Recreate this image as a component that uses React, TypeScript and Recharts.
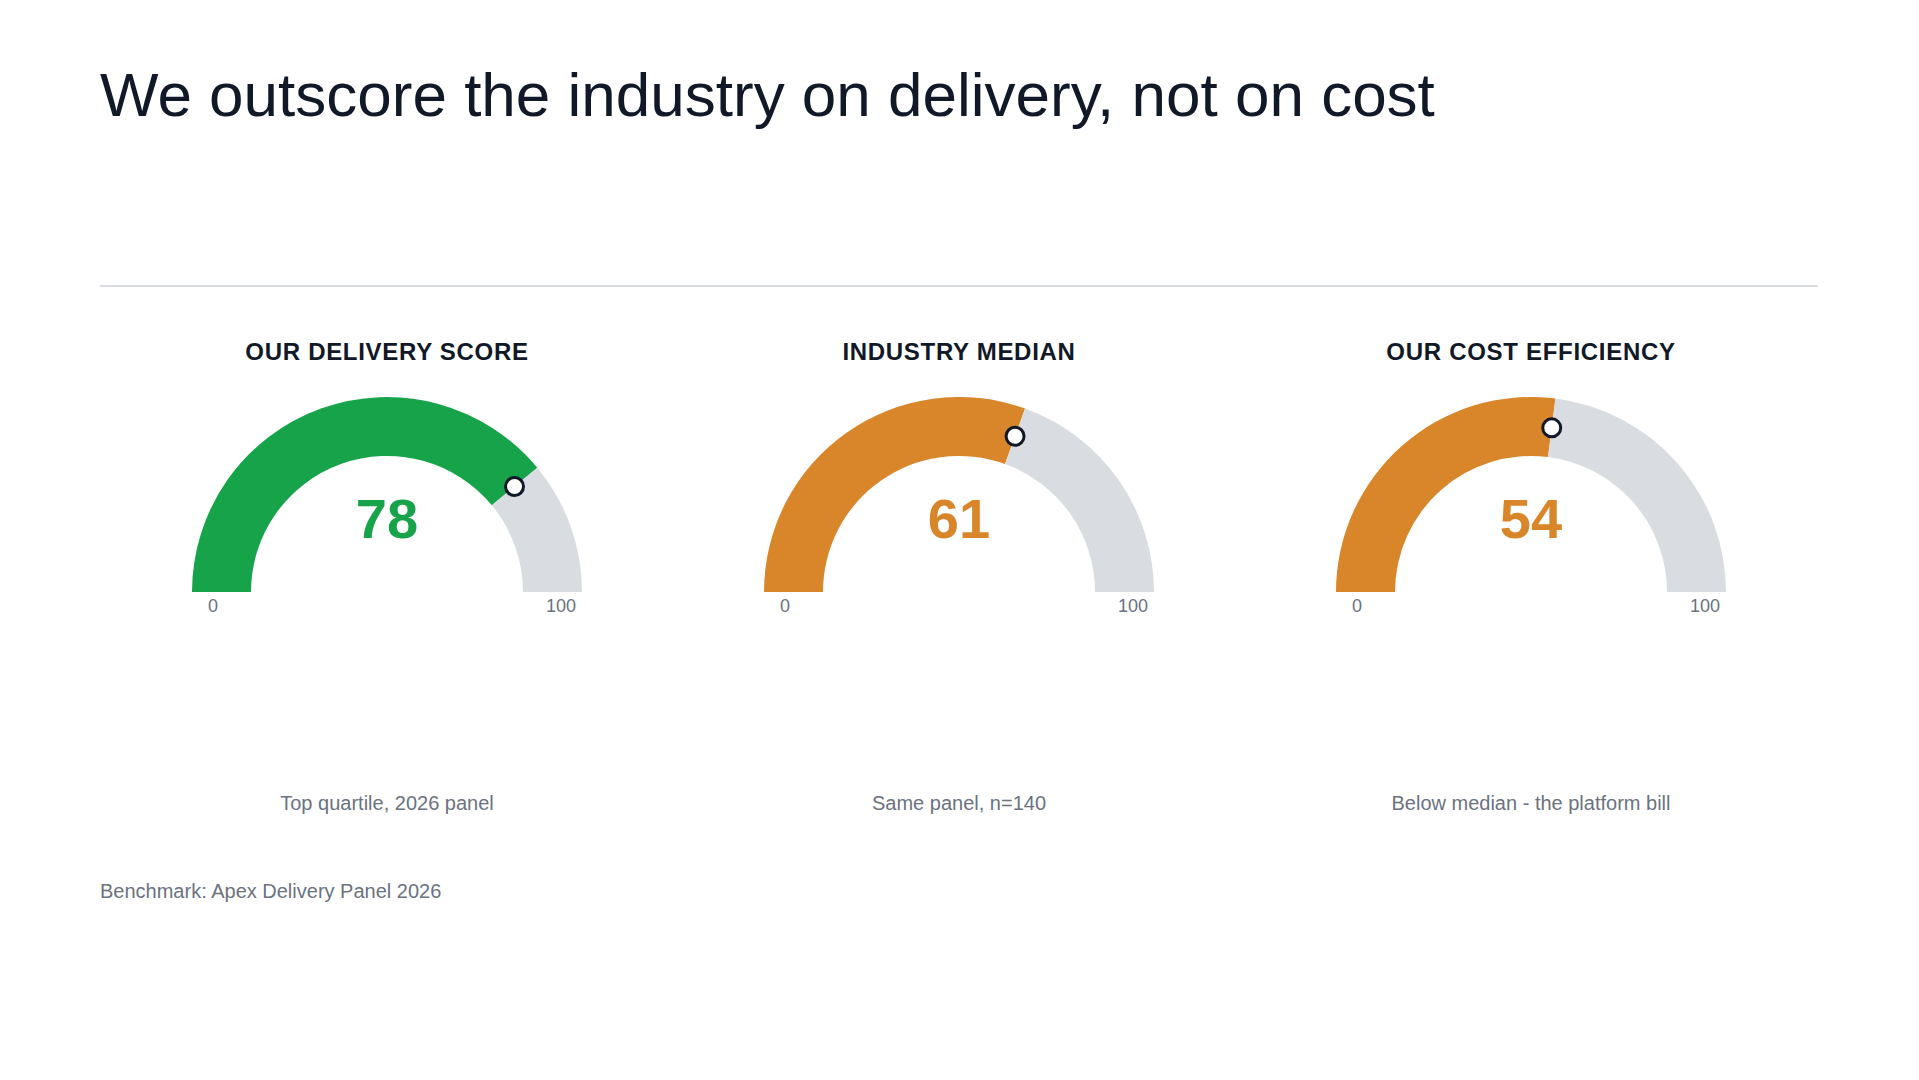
import React from "react";
import { PieChart, Pie, Cell } from "recharts";

const gaugeTitles = ["OUR DELIVERY SCORE", "INDUSTRY MEDIAN", "OUR COST EFFICIENCY"];
const gaugeValues = [78, 61, 54];
const gaugeNotes = ["Top quartile, 2026 panel", "Same panel, n=140", "Below median - the platform bill"];
const scaleMin = 0;
const scaleMax = 100;
const tickLabels = ["0", "100"];

const headline = "We outscore the industry on delivery, not on cost";
const footnote = "Benchmark: Apex Delivery Panel 2026";

const fillColors = ["#16a34a", "#d9862a", "#d9862a"];
const trackColor = "#d9dce1";
const ink = "#111827";
const muted = "#6b7280";
const font = "'Liberation Sans', Arial, Helvetica, sans-serif";

const RAD = Math.PI / 180;
const INNER = 136;
const OUTER = 195;
const CHART_W = 572;
const CHART_H = 330;
const CHART_TOP = 300;
const CX = 286;
const CY = 292;

// baseline -> top for a single line box with lineHeight = fontSize
const topFor = (baseline: number, fs: number) => baseline - 0.8465 * fs;

function Marker(props: any) {
  if (props.index !== 0) return null;
  const r = (props.innerRadius + props.outerRadius) / 2;
  const x = props.cx + r * Math.cos(-props.endAngle * RAD);
  const y = props.cy + r * Math.sin(-props.endAngle * RAD);
  return <circle cx={x} cy={y} r={9} fill="#ffffff" stroke={ink} strokeWidth={3} />;
}

function Gauge({ i, center }: { i: number; center: number }) {
  const value = gaugeValues[i];
  const data = [
    { name: "value", value: value - scaleMin },
    { name: "rest", value: scaleMax - value },
  ];
  const left = center - CHART_W / 2;
  return (
    <>
      <div
        style={{
          position: "absolute",
          left,
          width: CHART_W,
          top: topFor(360, 24),
          fontSize: 24,
          lineHeight: "24px",
          fontWeight: 700,
          letterSpacing: 0.7,
          color: ink,
          textAlign: "center",
        }}
      >
        {gaugeTitles[i]}
      </div>
      <div style={{ position: "absolute", left, top: CHART_TOP }}>
        <PieChart width={CHART_W} height={CHART_H} margin={{ top: 0, right: 0, bottom: 0, left: 0 }}>
          <Pie
            data={data}
            dataKey="value"
            cx={CX}
            cy={CY}
            startAngle={180}
            endAngle={0}
            innerRadius={INNER}
            outerRadius={OUTER}
            stroke="none"
            label={Marker}
            labelLine={false}
            isAnimationActive={false}
          >
            <Cell fill={fillColors[i]} />
            <Cell fill={trackColor} />
          </Pie>
        </PieChart>
      </div>
      <div
        style={{
          position: "absolute",
          left: center - 100,
          width: 200,
          top: topFor(538.3, 56),
          fontSize: 56,
          lineHeight: "56px",
          fontWeight: 700,
          color: fillColors[i],
          textAlign: "center",
        }}
      >
        {value}
      </div>
      {tickLabels.map((t, k) => (
        <div
          key={t}
          style={{
            position: "absolute",
            left: center + (k === 0 ? -174 : 174) - 40,
            width: 80,
            top: topFor(612.3, 18),
            fontSize: 18,
            lineHeight: "18px",
            color: muted,
            textAlign: "center",
          }}
        >
          {t}
        </div>
      ))}
      <div
        style={{
          position: "absolute",
          left,
          width: CHART_W,
          top: topFor(810, 20),
          fontSize: 20,
          lineHeight: "20px",
          color: muted,
          textAlign: "center",
        }}
      >
        {gaugeNotes[i]}
      </div>
    </>
  );
}

export default function App() {
  const centers = [387, 959, 1531];
  return (
    <div
      style={{
        position: "absolute",
        left: 0,
        top: 0,
        width: 1919,
        height: 1080,
        background: "#ffffff",
        fontFamily: font,
        overflow: "hidden",
      }}
    >
      <div
        style={{
          position: "absolute",
          left: 100,
          top: topFor(116, 62),
          fontSize: 62,
          lineHeight: "62px",
          color: ink,
          whiteSpace: "nowrap",
        }}
      >
        {headline}
      </div>
      <div
        style={{
          position: "absolute",
          left: 100,
          top: 285,
          width: 1718,
          height: 2,
          background: "#d9dce1",
        }}
      />
      {centers.map((c, i) => (
        <Gauge key={i} i={i} center={c} />
      ))}
      <div
        style={{
          position: "absolute",
          left: 100,
          top: topFor(898.4, 20),
          fontSize: 20,
          lineHeight: "20px",
          color: muted,
          whiteSpace: "nowrap",
        }}
      >
        {footnote}
      </div>
    </div>
  );
}
